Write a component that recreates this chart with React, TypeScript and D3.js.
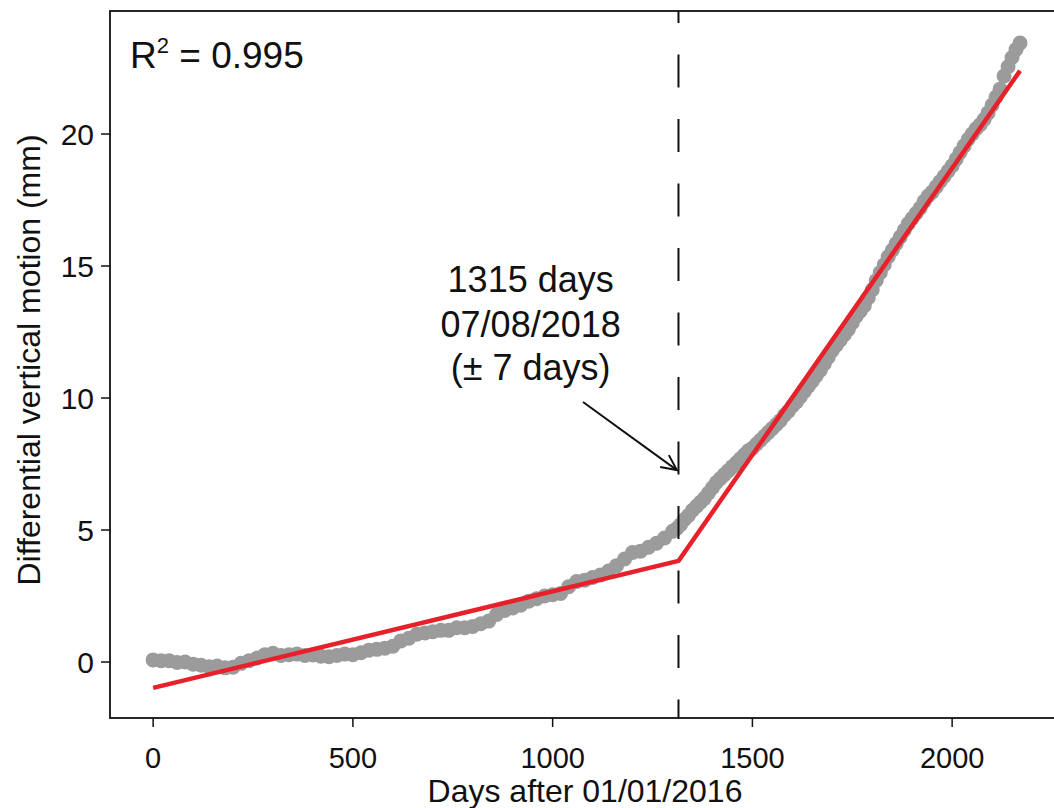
import React from 'react';
import * as d3 from 'd3';

const days = [
  0, 20, 40, 60, 80, 100, 120, 140, 160, 180, 200, 220, 240, 260, 280, 300, 320, 340, 360, 380,
  400, 420, 440, 460, 480, 500, 520, 540, 560, 580, 600, 620, 640, 660, 680, 700, 720, 740, 760, 780,
  800, 820, 840, 860, 880, 900, 920, 940, 960, 980, 1000, 1020, 1040, 1060, 1080, 1100, 1120, 1140, 1160, 1180,
  1200, 1220, 1240, 1260, 1280,
  1300, 1310, 1320, 1330, 1340, 1350, 1360, 1370, 1380, 1390, 1400, 1410, 1420, 1430, 1440, 1450, 1460, 1470, 1480, 1490,
  1500, 1510, 1520, 1530, 1540, 1550, 1560, 1570, 1580, 1590, 1600, 1610, 1620, 1630, 1640, 1650, 1660, 1670, 1680, 1690,
  1700, 1710, 1720, 1730, 1740, 1750, 1760, 1770, 1780, 1790, 1800, 1810, 1820, 1830, 1840, 1850, 1860, 1870, 1880, 1890,
  1900, 1910, 1920, 1930, 1940, 1950, 1960, 1970, 1980, 1990, 2000, 2010, 2020, 2030, 2040, 2050, 2060, 2070, 2080, 2090,
  2100, 2110, 2120, 2130, 2140, 2150, 2160, 2170,
];
const motion = [
  0.08, 0.05, 0.05, -0.02, 0.0, -0.08, -0.12, -0.18, -0.15, -0.22, -0.2, -0.05, 0.05, 0.15, 0.28, 0.33, 0.25, 0.28, 0.3, 0.25,
  0.27, 0.22, 0.2, 0.25, 0.3, 0.28, 0.35, 0.45, 0.48, 0.52, 0.6, 0.8, 0.9, 1.05, 1.1, 1.15, 1.2, 1.2, 1.3, 1.3,
  1.35, 1.45, 1.55, 1.8, 1.95, 2.05, 2.15, 2.3, 2.4, 2.5, 2.55, 2.6, 2.85, 3.05, 3.1, 3.2, 3.3, 3.45, 3.65, 3.9,
  4.15, 4.2, 4.35, 4.5, 4.7,
  4.95, 5.05, 5.2, 5.4, 5.55, 5.75, 5.9, 6.05, 6.2, 6.4, 6.6, 6.8, 6.95, 7.1, 7.25, 7.4, 7.55, 7.7, 7.85, 8.0,
  8.1, 8.25, 8.4, 8.55, 8.7, 8.85, 9.0, 9.15, 9.35, 9.5, 9.7, 9.85, 10.05, 10.25, 10.45, 10.65, 10.85, 11.05, 11.3, 11.55,
  11.8, 12.0, 12.2, 12.4, 12.6, 12.85, 13.1, 13.3, 13.5, 13.8, 14.1, 14.45, 14.75, 15.05, 15.35, 15.6, 15.85, 16.1, 16.35, 16.6,
  16.8, 17.0, 17.2, 17.45, 17.65, 17.8, 18.0, 18.2, 18.4, 18.6, 18.8, 19.05, 19.3, 19.55, 19.8, 20.0, 20.2, 20.35, 20.55, 20.8,
  21.1, 21.4, 21.7, 22.2, 22.55, 22.9, 23.2, 23.45,
];

// piecewise linear fit
const fitDays = [0, 1315, 2170];
const fitValues = [-0.98, 3.83, 22.4];

const breakDay = 1315;
const xTicks = [0, 500, 1000, 1500, 2000];
const yTicks = [0, 5, 10, 15, 20];
const noteLines = ['1315 days', '07/08/2018', '(\u00b1 7 days)'];
const noteY = [14.0, 12.3, 10.68];

const W = 1054;
const H = 808;
const FONT = '"Liberation Sans", Arial, Helvetica, sans-serif';

export default function App() {
  const x = d3.scaleLinear().domain([-108, 2280]).range([110, 1064]);
  const y = d3.scaleLinear().domain([-2.12, 24.66]).range([718, 11]);

  const points = days.map((d, i) => ({ d, v: motion[i] }));
  const fit = d3.line<number>()
    .x((d) => x(d))
    .y((_, i) => y(fitValues[i]));

  // arrow from the note to the break line
  const a0 = [x(1076), y(9.85)];
  const a1 = [x(1311), y(7.27)];
  const ang = Math.atan2(a1[1] - a0[1], a1[0] - a0[0]);
  const hl = 17;
  const ha = 0.45;
  const headPath = `M${a1[0] - hl * Math.cos(ang - ha)},${a1[1] - hl * Math.sin(ang - ha)}L${a1[0]},${a1[1]}L${a1[0] - hl * Math.cos(ang + ha)},${a1[1] - hl * Math.sin(ang + ha)}`;

  const [x0, x1] = x.range();
  const [yb, yt] = y.range();

  return (
    <svg width={W} height={H} style={{ position: 'absolute', left: 0, top: 0, background: '#fff' }} fontFamily={FONT}>
      <defs>
        <clipPath id="plot">
          <rect x={x0} y={yt} width={x1 - x0} height={yb - yt} />
        </clipPath>
      </defs>

      <g clipPath="url(#plot)">
        {points.map((p, i) => (
          <circle key={i} cx={x(p.d)} cy={y(p.v)} r={7.5} fill="#9b9b9b" />
        ))}
        <path d={fit(fitDays) || ''} fill="none" stroke="#e8202a" strokeWidth={4.5} strokeLinejoin="round" />
        <line x1={x(breakDay)} x2={x(breakDay)} y1={yt} y2={yb}
          stroke="#111" strokeWidth={2} strokeDasharray="33,31.5" strokeDashoffset={21} />
      </g>

      {/* frame */}
      <rect x={x0} y={yt} width={x1 - x0} height={yb - yt} fill="none" stroke="#111" strokeWidth={1.8} />

      {/* x axis */}
      {xTicks.map((t) => (
        <g key={t} transform={`translate(${x(t)},${yb})`}>
          <line y1={0} y2={9} stroke="#111" strokeWidth={1.5} />
          <text y={50} textAnchor="middle" fontSize={29} fill="#111">{t}</text>
        </g>
      ))}
      <text x={585} y={802} textAnchor="middle" fontSize={32} fill="#111">Days after 01/01/2016</text>

      {/* y axis */}
      {yTicks.map((t) => (
        <g key={t} transform={`translate(${x0},${y(t)})`}>
          <line x1={0} x2={-9} stroke="#111" strokeWidth={1.5} />
          <text x={-16} dy="0.36em" textAnchor="end" fontSize={30} fill="#111">{t}</text>
        </g>
      ))}
      <text transform={`translate(40,360) rotate(-90)`} textAnchor="middle" fontSize={32} fill="#111">
        Differential vertical motion (mm)
      </text>

      {/* R squared */}
      <text x={x0 + 20} y={yt + 57} fontSize={37} fill="#111">
        R<tspan fontSize={22} dy={-15}>2</tspan><tspan dy={15}> = 0.995</tspan>
      </text>

      {/* annotation */}
      {noteLines.map((s, i) => (
        <text key={s} x={x(945)} y={y(noteY[i])} textAnchor="middle" fontSize={36} fill="#111">{s}</text>
      ))}
      <line x1={a0[0]} y1={a0[1]} x2={a1[0]} y2={a1[1]} stroke="#111" strokeWidth={2} />
      <path d={headPath} fill="none" stroke="#111" strokeWidth={2} />
    </svg>
  );
}
